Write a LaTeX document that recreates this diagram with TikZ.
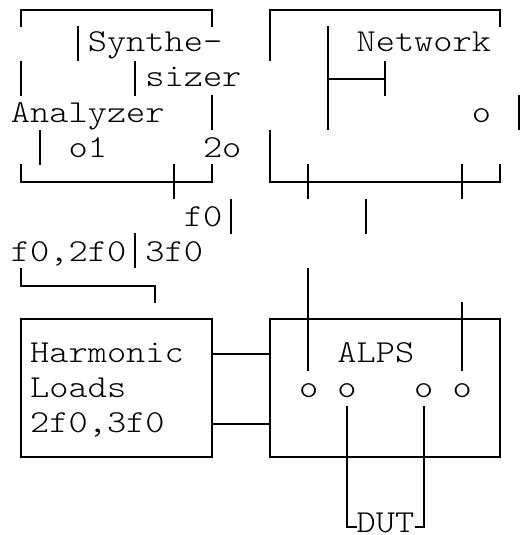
\documentclass[tikz,border=0pt]{standalone}
\usepackage{fontspec}
\newfontfamily\asciifont[FakeStretch=1.143]{Latin Modern Mono Light}
\tikzset{
  wire/.style={line width=1.5pt,black,line cap=butt},
  label/.style={anchor=base west,inner sep=0pt,outer sep=0pt,font=\asciifont\fontsize{24}{24}\selectfont,text=black},
  boxshape/.style={draw=black,line width=1.5pt,minimum width=144pt,inner sep=0pt,outer sep=0pt,rectangle}
}
\begin{document}
\begin{tikzpicture}[x=0.75pt,y=-0.75pt]
\useasboundingbox (0,0) rectangle (521,535);
% upper-left block
\draw[wire] (21,27) -- (21,10) -- (212,10) -- (212,27);
\draw[wire] (78,26) -- (78,61);
\draw[wire] (21,61) -- (21,96);
\draw[wire] (135,61) -- (135,96);
\draw[wire] (212,95) -- (212,130);
\draw[wire] (40,130) -- (40,165);
\draw[wire] (21,164) -- (21,182) -- (212,182) -- (212,164);
\draw[wire] (174,164) -- (174,199);
\draw[wire] (231,199) -- (231,234);
\draw[wire] (135,233) -- (135,268);
\draw[wire] (21,268) -- (21,286) -- (155,286) -- (155,303);
% upper-right block
\draw[wire] (270,61) -- (270,10) -- (500,10) -- (500,27);
\draw[wire] (328,26) -- (328,130);
\draw[wire] (328,79) -- (385,79);
\draw[wire] (385,61) -- (385,96);
\draw[wire] (519,95) -- (519,130);
\draw[wire] (270,130) -- (270,182) -- (500,182) -- (500,164);
\draw[wire] (308,164) -- (308,199);
\draw[wire] (462,164) -- (462,199);
\draw[wire] (366,199) -- (366,234);
% lower boxes
\node[boxshape,minimum width=143.25pt,minimum height=103.5pt] (harm) at (116.5,388) {};
\node[boxshape,minimum width=172.5pt,minimum height=103.5pt] (alps) at (385,388) {};
\coordinate (h1) at (212,354);
\coordinate (h2) at (212,424);
\draw[wire] (h1) -- (h1 -| alps.west);
\draw[wire] (h2) -- (h2 -| alps.west);
\draw[wire] (308,268) -- (308,371);
\draw[wire] (462,302) -- (462,371);
\coordinate (dl) at (347,406);
\coordinate (dr) at (424,406);
\draw[wire] (dl) -- (347,527) -- (357,527);
\draw[wire] (dr) -- (424,527) -- (415,527);
% text
\node[label] (t1) at (87.8,52) {Synthe-};
\node[label] (t2) at (145.4,87) {sizer};
\node[label] (t3) at (11,122) {Analyzer};
\node[label] (t4) at (68.6,157) {o1};
\node[label] (t5) at (203,157) {2o};
\node[label] (t6) at (183.8,226) {f0};
\node[label] (t7) at (11,261) {f0,2f0};
\node[label] (t8) at (145.4,261) {3f0};
\node[label] (t9) at (356.6,52) {Network};
\node[label] (t10) at (471.8,122) {o};
\node[label] (t11) at (30.2,362) {Harmonic};
\node[label] (t12) at (30.2,397) {Loads};
\node[label] (t13) at (30.2,432) {2f0,3f0};
\node[label] (t14) at (337.4,362) {ALPS};
\node[label] (o1) at (299,397) {o};
\node[label] (o2) at (337.4,397) {o};
\node[label] (o3) at (414.2,397) {o};
\node[label] (o4) at (452.6,397) {o};
\node[label] (t15) at (356.6,532) {DUT};
\end{tikzpicture}
\end{document}
